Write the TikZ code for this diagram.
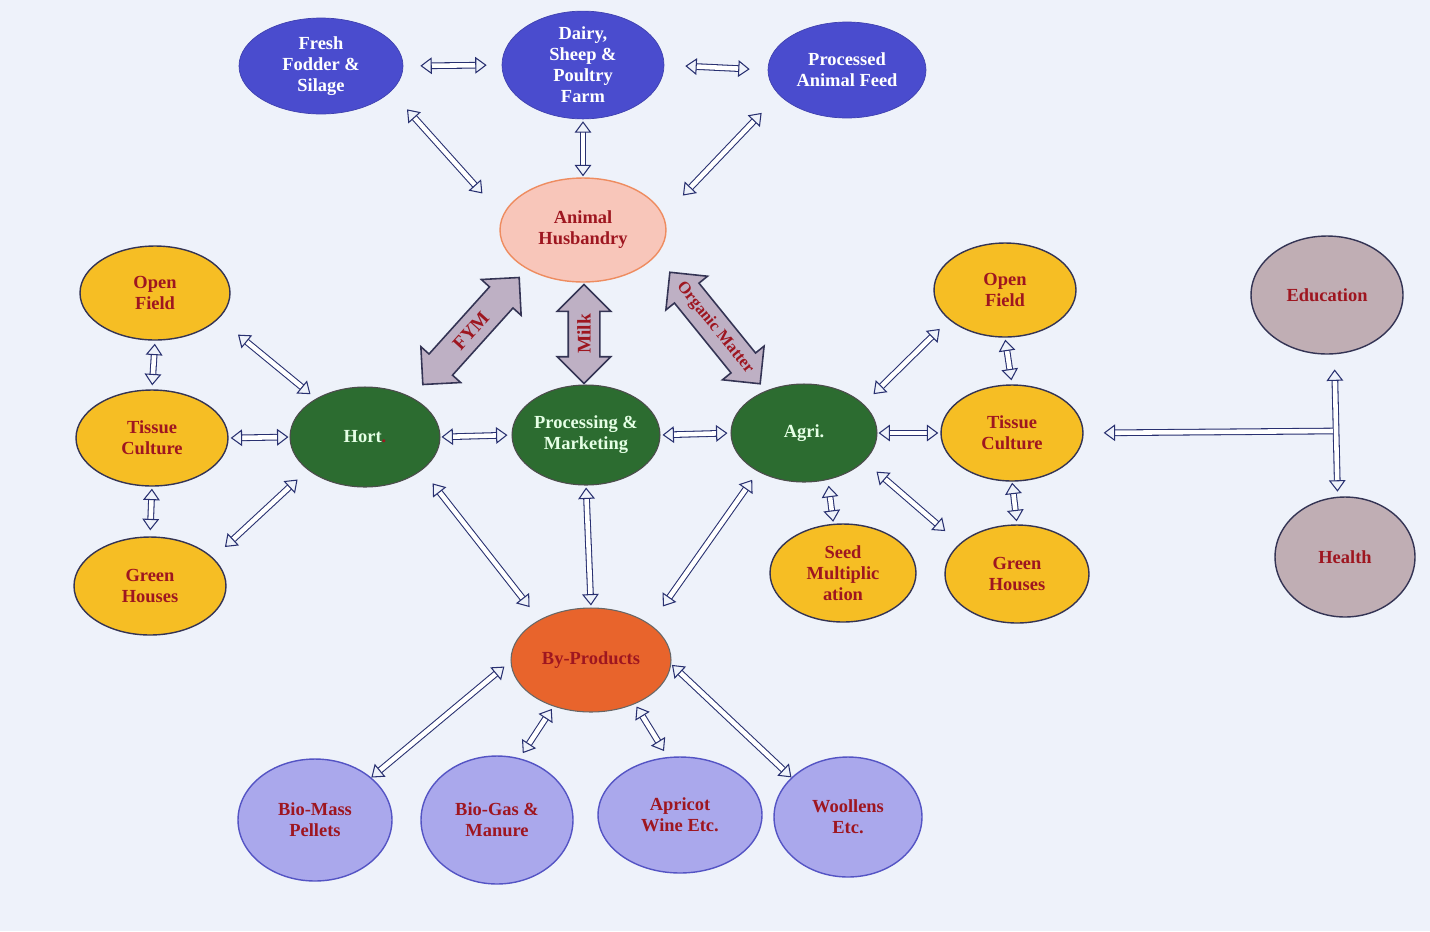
\documentclass[tikz,border=0pt]{standalone}
\usepackage{fontspec}
\setmainfont{Liberation Serif}
\usepackage{xcolor}
\usepackage{tikz}
\usetikzlibrary{positioning, arrows.meta, shapes.geometric, shapes.arrows, calc}

\definecolor{bgc}{RGB}{238,242,250}
\definecolor{bluen}{RGB}{74,76,206}
\definecolor{pinkn}{RGB}{248,198,186}
\definecolor{pinkb}{RGB}{238,140,96}
\definecolor{yellown}{RGB}{246,190,36}
\definecolor{greenn}{RGB}{44,108,48}
\definecolor{orangen}{RGB}{232,100,44}
\definecolor{lilacn}{RGB}{170,168,236}
\definecolor{lilacb}{RGB}{84,84,196}
\definecolor{greyn}{RGB}{192,174,180}
\definecolor{darkb}{RGB}{52,52,84}
\definecolor{txtred}{RGB}{158,22,32}
\definecolor{linec}{RGB}{40,48,112}
\definecolor{fatc}{RGB}{190,176,196}

\tikzset{
    every node/.style={font=\fontsize{10.5}{12}\selectfont\bfseries, align=center},
    blob/.style 2 args={ellipse, inner sep=0pt, minimum width=#1, minimum height=#2},
    bluebl/.style={fill=bluen, draw=bluen!85!black, text=white},
    pinkbl/.style={fill=pinkn, draw=pinkb, line width=0.8pt, text=txtred},
    yellowbl/.style={fill=yellown, draw=darkb, line width=0.8pt, text=txtred},
    greenbl/.style={fill=greenn, draw=black!70, line width=0.6pt, text=white!90!green},
    orangebl/.style={fill=orangen, draw=black!60, line width=0.6pt, text=txtred},
    lilacbl/.style={fill=lilacn, draw=lilacb, line width=0.8pt, text=txtred},
    greybl/.style={fill=greyn, draw=darkb, line width=0.8pt, text=txtred},
    dbl/.style={draw=linec, line width=0.6pt, double=white, double distance=2.6pt,
        {Triangle[open, length=6.5pt, width=9.5pt]}-{Triangle[open, length=6.5pt, width=9.5pt]}},
    fat/.style={double arrow, draw=darkb, fill=fatc, line width=0.9pt, inner ysep=0.3cm,
        inner xsep=0pt, double arrow head extend=0.22cm, double arrow head indent=0pt},
    fatlbl/.style={text=txtred, font=\fontsize{11}{12}\selectfont\bfseries}
}

\begin{document}
\begin{tikzpicture}[x=0.02cm, y=-0.02cm]
    \useasboundingbox (0,0) rectangle (1430,931);
    \fill[bgc] (0,0) rectangle (1430,931);

    \node[blob={3.28cm}{1.92cm}, bluebl] (fresh) at (321, 66) {Fresh\\Fodder \&\\Silage};
    \node[blob={3.24cm}{2.0cm}, bluebl] (dairy) at (583, 65) {Dairy,\\Sheep \&\\Poultry\\Farm};
    \node[blob={3.16cm}{1.92cm}, bluebl] (proc) at (847, 70) {Processed\\Animal Feed};
    \node[blob={3.32cm}{2.08cm}, pinkbl] (ah) at (583, 230) {Animal\\Husbandry};

    \node[blob={3.0cm}{1.88cm}, yellowbl] (openL) at (155, 293) {Open\\Field};
    \node[blob={3.04cm}{1.92cm}, yellowbl] (tissL) at (152, 438) {Tissue\\Culture};
    \node[blob={3.04cm}{1.96cm}, yellowbl] (greenL) at (150, 586) {Green\\Houses};

    \node[blob={3.0cm}{2.0cm}, greenbl] (hort) at (365, 437) {Hort{\color{txtred}.}};
    \node[blob={2.96cm}{2.0cm}, greenbl] (pm) at (586, 435) {Processing \&\\Marketing};
    \node[blob={2.92cm}{1.96cm}, greenbl] (agri) at (804, 433) {Agri.};

    \node[blob={2.84cm}{1.88cm}, yellowbl] (openR) at (1005, 290) {Open\\Field};
    \node[blob={2.84cm}{1.92cm}, yellowbl] (tissR) at (1012, 433) {Tissue\\Culture};
    \node[blob={2.92cm}{1.96cm}, yellowbl] (seed) at (843, 573) {Seed\\Multiplic\\ation};
    \node[blob={2.88cm}{1.96cm}, yellowbl] (greenR) at (1017, 574) {Green\\Houses};

    \node[blob={3.04cm}{2.36cm}, greybl] (edu) at (1327, 295) {Education};
    \node[blob={2.8cm}{2.4cm}, greybl] (health) at (1345, 557) {Health};

    \node[blob={3.2cm}{2.08cm}, orangebl] (byp) at (591, 660) {By-Products};
    \node[blob={3.08cm}{2.44cm}, lilacbl] (biomass) at (315, 820) {Bio-Mass\\Pellets};
    \node[blob={3.04cm}{2.56cm}, lilacbl] (biogas) at (497, 820) {Bio-Gas \&\\Manure};
    \node[blob={3.28cm}{2.32cm}, lilacbl] (apricot) at (680, 815) {Apricot\\Wine Etc.};
    \node[blob={2.96cm}{2.4cm}, lilacbl] (wool) at (848, 817) {Woollens\\Etc.};

    \foreach \a/\b/\s/\e in {fresh.east/dairy.west/0.34/0.30, dairy.east/proc.west/0.42/0.36,
        fresh.-20/ah.170/0.48/0.6, dairy.south/ah.north/0.04/0.02, proc.200/ah.10/0.5/0.56,
        openL.south/tissL.north/0.06/0.08, tissL.south/greenL.north/0.04/0.12,
        openL.-22/hort.142/0.5/0.14, tissL.east/hort.west/0.04/0.02, greenL.24/hort.-150/0.32/0.28,
        hort.east/pm.west/0.02/0.08, pm.east/agri.west/0.04/0.06, agri.east/tissR.west/0.02/0.04,
        agri.26/openR.-152/0.28/0.26, openR.south/tissR.north/0.04/0.08,
        tissR.south/greenR.north/0.02/0.06, agri.-63/seed.101/0.12/0.04,
        agri.-25/greenR.152/0.32/0.38, hort.-30/byp.142/0.34/0.32, pm.south/byp.north/0.04/0.04,
        agri.-140/byp.31/0.2/0.44, byp.181/biomass.37/0.16/0, byp.-129/biogas.70/0.06/0.12,
        byp.-45/apricot.102/0.06/0.14, byp.-3/wool.145/0.02/0, edu.-83/health.97/0.3/0.1} {
        \draw[dbl, shorten <=\s cm, shorten >=\e cm] (\a) -- (\b);
    }

    \coordinate (tee) at (1333, 431);
    \draw[dbl, {Triangle[open, length=6.5pt, width=9.5pt]}-, shorten <=0.4cm] (tissR.east) -- (tee);

    \node[fat, rotate=48, minimum height=2.88cm] (fym) at (471, 331) {};
    \node[fatlbl, rotate=48] at (fym) {FYM};
    \node[fat, rotate=90, minimum height=1.98cm] (milk) at (584, 334) {};
    \node[fatlbl, rotate=90] at (milk) {Milk};
    \node[fat, rotate=-51, minimum height=2.87cm] (orgm) at (715, 328) {};
    \node[fatlbl, rotate=-51, font=\fontsize{9.5}{11}\selectfont\bfseries] at (orgm) {Organic Matter};
\end{tikzpicture}
\end{document}
